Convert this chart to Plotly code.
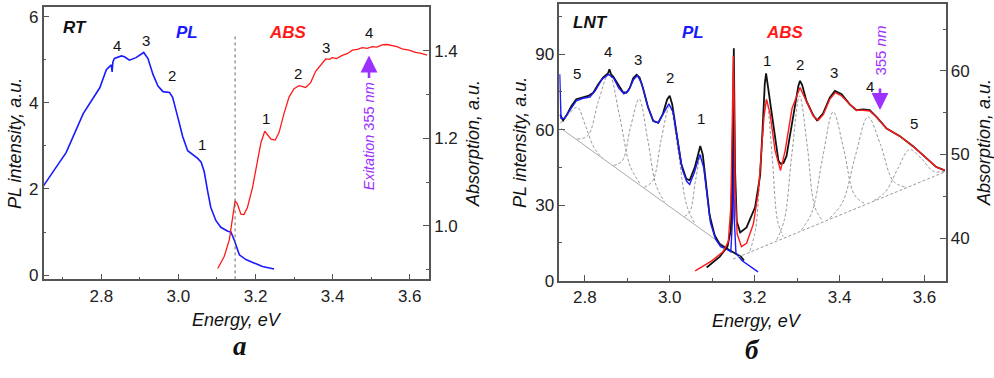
import plotly.graph_objects as go

W, H = 994, 378

# ---------------- Panel a (RT) ----------------
rt_pl_x = [2.649, 2.709, 2.753, 2.796, 2.813, 2.826, 2.828, 2.830, 2.834, 2.852, 2.860, 2.873, 2.890, 2.910,
           2.921, 2.934, 2.947, 2.960, 2.977, 2.985, 2.998, 3.011, 3.024, 3.037, 3.050, 3.059, 3.067, 3.076,
           3.084, 3.097, 3.110, 3.128, 3.136, 3.145, 3.158, 3.175, 3.192, 3.218, 3.248]
rt_pl_y = [2.06, 2.85, 3.75, 4.35, 4.77, 4.88, 4.72, 4.95, 5.03, 5.09, 5.07, 4.99, 5.05, 5.17,
           5.03, 4.66, 4.39, 4.26, 4.24, 4.13, 3.68, 3.22, 2.89, 2.81, 2.71, 2.62, 2.40, 1.94,
           1.57, 1.27, 1.11, 1.02, 1.00, 0.81, 0.47, 0.36, 0.30, 0.20, 0.14]

rt_abs_x = [3.102, 3.119, 3.132, 3.141, 3.147, 3.153, 3.162, 3.170, 3.179, 3.192, 3.205, 3.214, 3.224,
            3.231, 3.240, 3.251, 3.261, 3.274, 3.287, 3.300, 3.313, 3.330, 3.343, 3.356, 3.369, 3.382,
            3.392, 3.399, 3.410, 3.425, 3.438, 3.451, 3.464, 3.477, 3.490, 3.503, 3.515, 3.528, 3.541,
            3.554, 3.567, 3.580, 3.598, 3.615, 3.630, 3.645]
rt_abs_y = [0.903, 0.931, 0.968, 1.027, 1.057, 1.050, 1.027, 1.026, 1.042, 1.087, 1.146, 1.190, 1.216,
            1.209, 1.198, 1.196, 1.213, 1.257, 1.294, 1.313, 1.320, 1.316, 1.327, 1.353, 1.368, 1.381,
            1.380, 1.384, 1.382, 1.389, 1.393, 1.401, 1.403, 1.407, 1.405, 1.409, 1.408, 1.413, 1.414,
            1.411, 1.409, 1.404, 1.401, 1.396, 1.394, 1.390]

rt_divider_x = 3.147

# ---------------- Panel b (LNT) ----------------
lnt_pl_data_x = [2.742, 2.749, 2.757, 2.769, 2.780, 2.796, 2.808, 2.820, 2.831, 2.843, 2.855, 2.858, 2.862,
                 2.867, 2.878, 2.890, 2.898, 2.906, 2.914, 2.922, 2.929, 2.937, 2.949, 2.961, 2.973, 2.984,
                 2.994, 3.000, 3.006, 3.016, 3.027, 3.039, 3.047, 3.059, 3.067, 3.072, 3.078, 3.086, 3.094,
                 3.106, 3.118, 3.133, 3.142, 3.155, 3.168, 3.175]
lnt_pl_data_y = [66.0, 63.7, 65.7, 69.5, 72.1, 73.0, 73.4, 74.7, 77.9, 80.7, 82.5, 84.0, 82.0,
                 81.1, 77.9, 74.9, 74.7, 76.6, 80.5, 81.8, 80.7, 76.6, 68.9, 63.5, 62.7, 66.3,
                 72.0, 73.5, 70.0, 58.0, 46.5, 40.5, 39.9, 45.0, 50.0, 53.5, 50.0, 38.0, 26.0,
                 18.0, 14.5, 12.9, 12.0, 11.0, 9.5, 8.0]

lnt_pl_fit_x = [2.741, 2.744, 2.752, 2.765, 2.780, 2.796, 2.812, 2.825, 2.840, 2.856, 2.868, 2.880, 2.892,
                2.903, 2.915, 2.924, 2.934, 2.948, 2.962, 2.973, 2.986, 2.998, 3.008, 3.018, 3.030, 3.040,
                3.047, 3.058, 3.071, 3.080, 3.088, 3.096, 3.108, 3.120, 3.134, 3.144, 3.148, 3.150, 3.152,
                3.156, 3.170, 3.190, 3.208]
lnt_pl_fit_y = [82.0, 64.5, 64.5, 68.0, 71.5, 72.5, 73.0, 75.5, 80.0, 82.0, 80.5, 76.5, 74.3,
                75.5, 80.0, 81.5, 78.5, 69.5, 63.3, 62.8, 66.5, 70.3, 67.0, 56.0, 44.0, 39.5,
                38.2, 43.0, 50.2, 45.0, 33.0, 23.0, 16.5, 13.5, 12.5, 11.5, 25.0, 62.0, 25.0,
                11.0, 8.0, 5.5, 3.5]

lnt_abs_data_x = [3.087, 3.100, 3.118, 3.136, 3.144, 3.148, 3.151, 3.154, 3.158, 3.166, 3.181, 3.201, 3.213,
                  3.219, 3.224, 3.227, 3.232, 3.244, 3.256, 3.261, 3.268, 3.275, 3.291, 3.303, 3.307, 3.312,
                  3.322, 3.338, 3.347, 3.361, 3.377, 3.389, 3.405, 3.424, 3.440, 3.455, 3.471, 3.487, 3.511,
                  3.542, 3.573, 3.605, 3.628, 3.648]
lnt_abs_data_y = [36.5, 37.0, 37.8, 39.0, 41.0, 50.0, 62.7, 48.0, 42.0, 40.7, 41.3, 43.7, 47.5,
                  53.3, 58.5, 59.7, 58.0, 53.7, 49.3, 48.9, 49.0, 49.8, 54.5, 58.2, 58.8, 58.3,
                  56.4, 54.7, 54.1, 54.9, 56.8, 57.6, 57.2, 56.0, 55.3, 55.4, 55.3, 54.5, 53.1,
                  52.2, 51.0, 49.5, 48.5, 48.1]

lnt_abs_fit_x = [3.060, 3.080, 3.099, 3.126, 3.138, 3.144, 3.148, 3.150, 3.152, 3.154, 3.159, 3.169, 3.181,
                 3.197, 3.209, 3.216, 3.222, 3.228, 3.236, 3.248, 3.261, 3.272, 3.288, 3.307, 3.322, 3.338,
                 3.350, 3.362, 3.377, 3.390, 3.405, 3.424, 3.440, 3.455, 3.471, 3.487, 3.511, 3.542, 3.573,
                 3.605, 3.628, 3.648]
lnt_abs_fit_y = [36.1, 36.7, 37.3, 38.4, 39.6, 43.7, 55.0, 61.8, 55.0, 45.6, 40.5, 39.0, 39.4,
                 41.7, 45.6, 50.2, 54.5, 56.6, 55.0, 50.5, 48.1, 50.5, 55.5, 58.0, 56.3, 54.6,
                 54.1, 54.8, 56.6, 57.4, 57.0, 56.0, 55.3, 55.3, 55.2, 54.5, 53.1, 52.2, 51.0,
                 49.5, 48.5, 48.1]

# baselines of the decomposition
pl_base_x = [2.744, 3.165]
pl_base_y = [60.5, 9.4]
abs_base_x = [3.149, 3.647]
abs_base_y = [37.5, 47.9]

# PL components (left axis)
pl_comp = {
    "5": ([2.742, 2.762, 2.782, 2.802, 2.822, 2.842], [62.5, 66.2, 68.9, 61.4, 52.8, 48.7]),
    "4": ([2.782, 2.807, 2.832, 2.857, 2.882, 2.907, 2.932], [56.3, 57.6, 71.3, 82.3, 65.3, 45.5, 38.1]),
    "3": ([2.868, 2.888, 2.908, 2.928, 2.948, 2.968, 2.988], [45.8, 47.6, 61.2, 72.2, 56.3, 37.9, 31.3]),
    "2": ([2.940, 2.960, 2.980, 3.000, 3.020, 3.040, 3.060], [37.1, 39.7, 56.1, 69.4, 51.3, 30.0, 22.5]),
    "1": ([3.035, 3.048, 3.061, 3.074, 3.087, 3.100, 3.113], [25.5, 27.6, 40.0, 50.0, 36.9, 21.3, 16.0]),
}
# ABS components (right axis)
abs_comp = {
    "1": ([3.189, 3.202, 3.215, 3.228, 3.241, 3.254, 3.267], [38.5, 41.0, 49.5, 56.6, 50.0, 42.1, 40.2]),
    "2": ([3.252, 3.270, 3.288, 3.306, 3.324, 3.342, 3.360], [39.8, 42.2, 50.2, 57.0, 51.0, 43.7, 42.1]),
    "3": ([3.310, 3.335, 3.360, 3.385, 3.410, 3.435, 3.460], [41.0, 43.1, 49.6, 55.1, 50.6, 45.2, 44.1]),
    "4": ([3.377, 3.407, 3.437, 3.467, 3.497, 3.527, 3.557], [42.4, 44.3, 49.8, 54.5, 51.1, 46.8, 46.1]),
    "5": ([3.481, 3.509, 3.537, 3.565, 3.593, 3.621, 3.649], [44.5, 45.6, 48.3, 50.6, 49.5, 48.0, 48.0]),
}

BLUE = "#1a1aff"
RED = "#ff1a1a"
PURPLE = "#9b30ff"
GRAY = "#9a9a9a"
AXC = "#555555"
FONT = "Arial, Liberation Sans, sans-serif"

fig = go.Figure()

# panel a
fig.add_trace(go.Scatter(x=rt_pl_x, y=rt_pl_y, mode="lines", line=dict(color=BLUE, width=1.6),
                         xaxis="x", yaxis="y"))
fig.add_trace(go.Scatter(x=rt_abs_x, y=rt_abs_y, mode="lines", line=dict(color=RED, width=1.3),
                         xaxis="x", yaxis="y2"))

# panel b components
for k, (cx, cy) in pl_comp.items():
    fig.add_trace(go.Scatter(x=cx, y=cy, mode="lines", line=dict(color=GRAY, width=1, dash="3px,2px", shape="spline"),
                             xaxis="x2", yaxis="y3"))
for k, (cx, cy) in abs_comp.items():
    fig.add_trace(go.Scatter(x=cx, y=cy, mode="lines", line=dict(color=GRAY, width=1, dash="3px,2px", shape="spline"),
                             xaxis="x2", yaxis="y4"))
fig.add_trace(go.Scatter(x=pl_base_x, y=pl_base_y, mode="lines", line=dict(color="#aaaaaa", width=1),
                         xaxis="x2", yaxis="y3"))
fig.add_trace(go.Scatter(x=abs_base_x, y=abs_base_y, mode="lines", line=dict(color=GRAY, width=1, dash="3px,2px"),
                         xaxis="x2", yaxis="y4"))
# data & fits
fig.add_trace(go.Scatter(x=lnt_pl_data_x, y=lnt_pl_data_y, mode="lines", line=dict(color="#111111", width=1.8),
                         xaxis="x2", yaxis="y3"))
fig.add_trace(go.Scatter(x=lnt_abs_data_x, y=lnt_abs_data_y, mode="lines", line=dict(color="#111111", width=1.8),
                         xaxis="x2", yaxis="y4"))
fig.add_trace(go.Scatter(x=lnt_pl_fit_x, y=lnt_pl_fit_y, mode="lines", line=dict(color=BLUE, width=1.4),
                         xaxis="x2", yaxis="y3"))
fig.add_trace(go.Scatter(x=lnt_abs_fit_x, y=lnt_abs_fit_y, mode="lines", line=dict(color=RED, width=1.4),
                         xaxis="x2", yaxis="y4"))


def px(x):
    return x / W


def py(y):
    return 1 - y / H


tickfont = dict(family=FONT, size=17, color="#222222")
common_x = dict(showline=True, linecolor=AXC, linewidth=1.5, mirror=True, ticks="inside", ticklen=6,
                tickcolor=AXC, tickfont=tickfont, showgrid=False, zeroline=False, dtick=0.2, tick0=2.8,
                tickformat=".1f",
                minor=dict(ticks="inside", ticklen=3, dtick=0.1, tickcolor=AXC))
common_y = dict(showline=True, linecolor=AXC, linewidth=1.5, ticks="inside", ticklen=6, tickcolor=AXC,
                tickfont=tickfont, showgrid=False, zeroline=False)

fig.update_layout(
    width=W, height=H, margin=dict(l=0, r=0, t=0, b=0), showlegend=False,
    paper_bgcolor="white", plot_bgcolor="white", hovermode=False,
    xaxis=dict(domain=[px(43.5), px(429)], range=[2.65, 3.65], anchor="y", **common_x),
    yaxis=dict(domain=[py(287), py(7)], range=[-0.1, 6.23], anchor="x", dtick=2, tick0=0,
               minor=dict(ticks="inside", ticklen=3, dtick=1, tickcolor=AXC), **common_y),
    yaxis2=dict(overlaying="y", side="right", range=[0.878, 1.50], anchor="x", dtick=0.2, tick0=1.0,
                tickformat=".1f",
                minor=dict(ticks="inside", ticklen=3, dtick=0.1, tick0=0.9, tickcolor=AXC), **common_y),
    xaxis2=dict(domain=[px(559.3), px(945.7)], range=[2.74, 3.65], anchor="y3", **common_x),
    yaxis3=dict(domain=[py(288.3), py(4)], range=[0, 110], anchor="x2", dtick=30, tick0=0,
                minor=dict(ticks="inside", ticklen=3, dtick=15, tickcolor=AXC), **common_y),
    yaxis4=dict(overlaying="y3", side="right", range=[34.93, 68.0], anchor="x2", dtick=10, tick0=0,
                minor=dict(ticks="inside", ticklen=3, dtick=5, tickcolor=AXC), **common_y),
)

fig.add_shape(type="line", xref="x", yref="y", x0=rt_divider_x, x1=rt_divider_x, y0=-0.1, y1=5.57,
              line=dict(color="#666666", width=1, dash="dot"))

ann = []


def text(x, y, s, size=14, color="#111111", angle=0, family=FONT, xanchor="center"):
    ann.append(dict(x=px(x), y=py(y), xref="paper", yref="paper", text=s, showarrow=False,
                    textangle=angle, font=dict(family=family, size=size, color=color),
                    xanchor=xanchor, yanchor="middle", borderpad=0))


# axis titles
text(237, 329, "<i>Energy, eV</i>", 18)
text(757, 330, "<i>Energy, eV</i>", 18)
text(15, 148, "<i>PL intensity, a.u.</i>", 18, angle=-90)
text(473, 148, "<i>Absorption, a.u.</i>", 18, angle=-90)
text(520, 147, "<i>PL intensity, a.u.</i>", 18, angle=-90)
text(984, 147, "<i>Absorption, a.u.</i>", 18, angle=-90)

# panel letters
text(240, 355, "<b><i>a</i></b>", 27, family="Liberation Serif, Times New Roman, serif")
text(752, 360, "<b><i>б</i></b>", 27, family="Liberation Serif, Times New Roman, serif")

# panel a labels
text(75, 28, "<b><i>RT</i></b>", 17)
text(187, 33, "<b><i>PL</i></b>", 17, BLUE)
text(288, 33, "<b><i>ABS</i></b>", 17, RED)
for s, x, y in [("4", 117, 47), ("3", 146, 42), ("2", 172, 78), ("1", 202, 148),
                ("1", 266, 122), ("2", 298, 76), ("3", 326, 49), ("4", 369, 33)]:
    text(x, y, s, 15)
text(369, 140, "<i>Exitation</i> 355 <i>nm</i>", 14.5, PURPLE, angle=-90)

# panel b labels
text(590, 23, "<b><i>LNT</i></b>", 17)
text(693, 33, "<b><i>PL</i></b>", 17, BLUE)
text(785, 33, "<b><i>ABS</i></b>", 17, RED)
for s, x, y in [("5", 577, 76), ("4", 608, 53), ("3", 638, 61), ("2", 670, 80), ("1", 701, 122),
                ("1", 767, 62), ("2", 800, 66), ("3", 834, 74), ("4", 870, 89), ("5", 914, 127)]:
    text(x, y, s, 15)
text(881, 52, "355 <i>nm</i>", 15, PURPLE, angle=-90)

# arrows
ann.append(dict(x=px(369), y=py(57), xref="paper", yref="paper", ax=0, ay=24, showarrow=True,
                arrowhead=2, arrowsize=1.3, arrowwidth=2.6, arrowcolor=PURPLE, text=""))
ann.append(dict(x=px(880), y=py(113), xref="paper", yref="paper", ax=0, ay=-23, showarrow=True,
                arrowhead=2, arrowsize=1.3, arrowwidth=2.6, arrowcolor=PURPLE, text=""))

fig.update_layout(annotations=ann)
fig.write_html("out.html", config={"displayModeBar": False},
               post_script="document.body.style.margin='0';document.body.style.overflow='hidden';")
